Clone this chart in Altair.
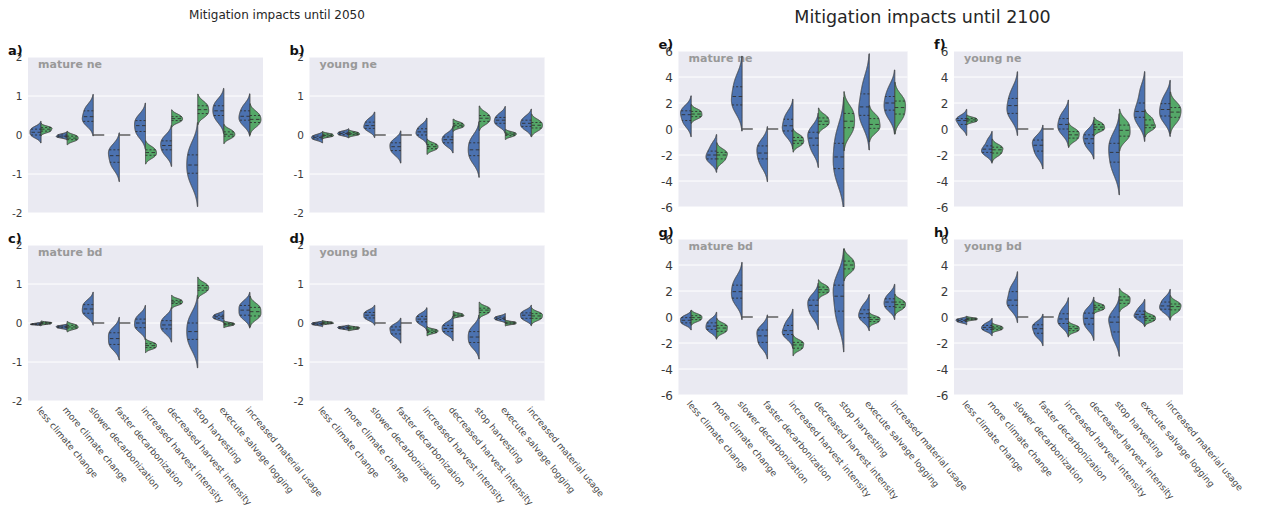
import json
import altair as alt
import pandas as pd

CATS = ["less climate change", "more climate change", "slower decarbonization",
        "faster decarbonization", "increased harvest intensity",
        "decreased harvest intensity", "stop harvesting",
        "execute salvage logging", "increased material usage"]
PANELS = ["a", "b", "c", "d", "e", "f", "g", "h"]
PANEL_NAMES = {"a": "mature ne", "b": "young ne", "c": "mature bd", "d": "young bd",
               "e": "mature ne", "f": "young ne", "g": "mature bd", "h": "young bd"}
TITLE_2050 = "Mitigation impacts until 2050"
TITLE_2100 = "Mitigation impacts until 2100"
Y_2050 = [-2, -1, 0, 1, 2]
Y_2100 = [-6, -4, -2, 0, 2, 4, 6]
F = [0, 0, 0, 0, 0]

# representative observations per half-violin (blue = left half, green = right half)
BLUE = {
    "a": [[-0.04, 0.0, 0.07, 0.15, 0.18], [-0.065, -0.05, -0.03, 0.0, 0.02], [0.3, 0.35, 0.47, 0.62, 0.73],
          [-0.83, -0.7, -0.53, -0.38, -0.33], [-0.02, 0.09, 0.24, 0.37, 0.47], [-0.51, -0.38, -0.27, -0.15, -0.05],
          [-1.23, -0.98, -0.77, -0.51, -0.29], [0.36, 0.5, 0.62, 0.75, 0.87], [0.28, 0.38, 0.48, 0.62, 0.75]],
    "b": [[-0.12, -0.1, -0.06, -0.03, 0.0], [-0.005, 0.01, 0.04, 0.07, 0.09], [0.13, 0.17, 0.24, 0.33, 0.4],
          [-0.48, -0.4, -0.3, -0.2, -0.14], [-0.04, 0.0, 0.08, 0.16, 0.24], [-0.27, -0.2, -0.12, -0.05, 0.02],
          [-0.67, -0.53, -0.38, -0.2, -0.08], [0.24, 0.3, 0.38, 0.45, 0.54], [0.16, 0.22, 0.3, 0.38, 0.46]],
    "c": [[-0.045, -0.04, -0.03, -0.02, -0.005], [-0.135, -0.12, -0.1, -0.08, -0.07], [0.2, 0.25, 0.36, 0.47, 0.54],
          [-0.62, -0.55, -0.4, -0.25, -0.19], [-0.17, -0.12, 0.0, 0.1, 0.19], [-0.23, -0.15, -0.05, 0.06, 0.14],
          [-0.61, -0.42, -0.22, 0.0, 0.17], [0.1, 0.12, 0.16, 0.2, 0.23], [0.15, 0.2, 0.33, 0.45, 0.51]],
    "d": [[-0.05, -0.04, -0.02, 0.0, 0.01], [-0.15, -0.14, -0.12, -0.1, -0.095], [0.1, 0.13, 0.2, 0.27, 0.3],
          [-0.32, -0.28, -0.18, -0.1, -0.07], [-0.02, 0.03, 0.1, 0.17, 0.22], [-0.27, -0.22, -0.14, -0.06, -0.015],
          [-0.59, -0.5, -0.36, -0.22, -0.13], [0.07, 0.09, 0.12, 0.15, 0.17], [0.09, 0.12, 0.2, 0.26, 0.3]],
    "e": [[0.32, 0.65, 1.1, 1.4, 1.61], [-2.55, -2.3, -2.0, -1.7, -1.19], [1.6, 1.85, 2.5, 3.25, 3.94],
          [-2.83, -2.3, -1.85, -1.3, -1.1], [-0.4, -0.15, 0.25, 0.75, 1.18], [-1.75, -1.25, -0.7, -0.25, -0.04],
          [-3.9, -3.05, -2.15, -1.1, -0.1], [0.56, 1.05, 1.7, 2.7, 3.69], [0.99, 1.45, 2.0, 2.5, 3.2]],
    "f": [[0.07, 0.35, 0.65, 0.8, 0.92], [-1.97, -1.8, -1.55, -1.3, -0.82], [1.0, 1.2, 1.8, 2.35, 3.0],
          [-2.09, -1.7, -1.25, -0.85, -0.75], [-0.29, 0.0, 0.35, 0.8, 1.21], [-1.48, -1.1, -0.75, -0.45, -0.15],
          [-3.26, -2.55, -1.8, -1.1, -0.68], [0.49, 0.9, 1.35, 2.0, 3.02], [0.68, 1.0, 1.5, 1.95, 2.53]],
    "g": [[-0.55, -0.45, -0.25, -0.05, 0.04], [-1.09, -0.95, -0.7, -0.45, -0.24], [1.1, 1.45, 1.95, 2.45, 2.93],
          [-2.21, -1.95, -1.45, -1.0, -0.9], [-1.49, -1.35, -1.05, -0.65, -0.26], [0.07, 0.45, 0.9, 1.3, 1.54],
          [-0.38, 0.45, 1.6, 2.45, 2.8], [-0.27, -0.05, 0.25, 0.55, 0.96], [0.6, 0.8, 1.15, 1.4, 1.75]],
    "h": [[-0.4, -0.35, -0.26, -0.18, -0.14], [-1.05, -0.95, -0.8, -0.65, -0.49], [0.8, 0.9, 1.3, 1.95, 2.33],
          [-1.5, -1.25, -0.9, -0.6, -0.55], [-0.62, -0.5, -0.15, 0.25, 0.6], [-0.81, -0.55, -0.1, 0.3, 0.53],
          [-1.69, -1.15, -0.4, 0.0, 0.15], [-0.15, 0.0, 0.2, 0.45, 0.78], [0.46, 0.6, 0.85, 1.15, 1.44]],
}
GREEN = {
    "a": [[0.08, 0.1, 0.15, 0.19, 0.2], [-0.15, -0.12, -0.08, -0.03, -0.01], F, F,
          [-0.57, -0.52, -0.45, -0.38, -0.32], [0.33, 0.37, 0.42, 0.47, 0.52], [0.5, 0.55, 0.65, 0.75, 0.82],
          [-0.08, -0.03, 0.02, 0.08, 0.13], [0.24, 0.32, 0.4, 0.5, 0.57]],
    "b": [[-0.045, -0.03, -0.01, 0.02, 0.03], [-0.005, 0.01, 0.03, 0.06, 0.075], F, F,
          [-0.38, -0.35, -0.3, -0.25, -0.22], [0.19, 0.21, 0.25, 0.29, 0.32], [0.3, 0.35, 0.43, 0.5, 0.56],
          [-0.04, -0.01, 0.02, 0.05, 0.07], [0.13, 0.18, 0.25, 0.32, 0.37]],
    "c": [[-0.025, -0.02, 0.0, 0.01, 0.02], [-0.15, -0.13, -0.1, -0.06, -0.04], F, F,
          [-0.65, -0.63, -0.58, -0.53, -0.51], [0.47, 0.5, 0.54, 0.58, 0.61], [0.78, 0.84, 0.9, 0.96, 1.02],
          [-0.07, -0.05, -0.03, -0.01, 0.005], [0.14, 0.18, 0.29, 0.4, 0.45]],
    "d": [[-0.02, -0.01, 0.0, 0.02, 0.025], [-0.16, -0.15, -0.13, -0.11, -0.105], F, F,
          [-0.26, -0.24, -0.21, -0.18, -0.165], [0.17, 0.18, 0.2, 0.23, 0.245], [0.24, 0.27, 0.33, 0.38, 0.41],
          [-0.03, -0.02, 0.0, 0.02, 0.03], [0.09, 0.12, 0.18, 0.24, 0.26]],
    "e": [[0.88, 0.95, 1.15, 1.35, 1.45], [-2.51, -2.3, -2.0, -1.8, -1.67], F, F,
          [-1.25, -1.1, -0.9, -0.65, -0.52], [0.22, 0.35, 0.6, 0.85, 1.03], [-0.34, 0.1, 0.6, 1.2, 1.52],
          [-0.15, 0.05, 0.35, 0.8, 0.96], [0.78, 1.15, 1.65, 2.15, 2.4]],
    "f": [[0.55, 0.6, 0.7, 0.8, 0.86], [-2.0, -1.85, -1.6, -1.4, -1.3], F, F,
          [-0.86, -0.7, -0.45, -0.2, -0.09], [-0.1, -0.05, 0.15, 0.35, 0.47], [-0.72, -0.55, -0.1, 0.3, 0.57],
          [0.05, 0.1, 0.3, 0.7, 0.85], [0.57, 0.9, 1.3, 1.65, 1.9]],
    "g": [[-0.29, -0.2, -0.05, 0.1, 0.18], [-1.15, -1.1, -0.85, -0.65, -0.57], F, F,
          [-2.49, -2.4, -2.15, -1.95, -1.87], [1.83, 1.9, 2.1, 2.3, 2.42], [3.52, 3.7, 4.0, 4.3, 4.54],
          [-0.44, -0.35, -0.2, -0.05, 0.0], [0.6, 0.75, 0.95, 1.15, 1.27]],
    "h": [[-0.23, -0.2, -0.15, -0.1, -0.07], [-1.01, -0.95, -0.85, -0.75, -0.69], F, F,
          [-1.12, -1.05, -0.9, -0.75, -0.68], [0.56, 0.6, 0.75, 0.9, 0.95], [0.93, 1.05, 1.3, 1.55, 1.64],
          [-0.33, -0.25, -0.1, 0.05, 0.13], [0.4, 0.55, 0.8, 1.0, 1.12]],
}

rows = []
for p in PANELS:
    for side, sgn, src in (("blue", -1, BLUE), ("green", 1, GREEN)):
        for ci, vals in enumerate(src[p]):
            for k, v in enumerate(vals):
                rows.append(dict(panel=p, ci=ci, side=side, sgn=sgn, obs=k, v=v))
df = pd.DataFrame(rows)

FONT = "DejaVu Sans"
EDGE = "#444444"
BG = "#EAEAF2"
HALF = 0.42
PLOT_H = 156
label_expr = json.dumps(CATS) + "[datum.value]"


def panel(p, yvals, width, bottom, yfs, pad_top=0, title=None):
    ymin, ymax = yvals[0], yvals[-1]
    top = ymax + (ymax - ymin) * pad_top / PLOT_H
    xs = alt.Scale(domain=[-0.5, 8.5], nice=False, zero=False)
    ys = alt.Scale(domain=[ymin, top], nice=False, zero=False)
    if bottom:
        xax = alt.Axis(values=list(range(9)), labelExpr=label_expr, labelAngle=50, labelAlign="left",
                       labelBaseline="top", labelFontSize=9, labelColor="#444444", labelPadding=4,
                       labelFlush=False, labelOverlap=False, labelBound=False, ticks=False, domain=False,
                       grid=False, title=None, labelFont=FONT)
    else:
        xax = alt.Axis(values=list(range(9)), labels=False, ticks=False, domain=False, grid=False, title=None)
    yax = alt.Axis(values=yvals, title=None, grid=False, domain=False, ticks=False, labelFontSize=yfs,
                   labelColor="#3a3a3a", labelPadding=6, labelFont=FONT, labelExpr="'' + datum.value")
    ext = [ymin * 1.25, ymax * 1.25]
    steps = 1000 if ymax < 3 else 1400

    bg = alt.Chart(pd.DataFrame({"k": [0]})).mark_rect(color=BG).encode(
        y=alt.Y(datum=ymax, scale=ys, axis=yax), y2=alt.datum(ymin), x=alt.value(0), x2=alt.value(width))
    grid = alt.Chart(pd.DataFrame({"gv": yvals})).mark_rule(color="white", strokeWidth=1).encode(
        y=alt.Y("gv:Q", scale=ys, axis=yax), x=alt.value(0), x2=alt.value(width))

    base = alt.Chart(df).transform_filter(alt.datum.panel == p).transform_joinaggregate(
        q1="q1(v)", med="median(v)", q3="q3(v)", vmin="min(v)", vmax="max(v)", groupby=["ci", "sgn"])

    viol = base.transform_filter("datum.vmax > datum.vmin").transform_density(
        "v", groupby=["ci", "sgn", "side", "q1", "med", "q3"], extent=ext, steps=steps,
        as_=["val", "dens"]).transform_joinaggregate(
        dmax="max(dens)", groupby=["ci", "sgn"]).transform_calculate(
        w="datum.dens / datum.dmax").transform_filter(
        f"datum.w > 0.03 && datum.val <= {ymax}").transform_calculate(
        xe=f"datum.ci + datum.sgn * {HALF} * datum.w")

    areas = viol.mark_area(orient="horizontal", interpolate="monotone", stroke=EDGE, strokeWidth=1,
                           clip=True).encode(
        y=alt.Y("val:Q", scale=ys, axis=yax),
        x=alt.X("xe:Q", scale=xs, axis=xax),
        x2="ci:Q",
        color=alt.Color("side:N", scale=alt.Scale(domain=["blue", "green"], range=["#4C72B0", "#55A868"]),
                        legend=None),
        detail="ci:N",
    )

    quart = viol.transform_fold(["q1", "med", "q3"], as_=["qk", "qv"]).transform_calculate(
        dist="abs(datum.val - datum.qv)").transform_window(
        rk="row_number()", groupby=["ci", "sgn", "qk"], sort=[alt.SortField("dist", order="ascending")]
    ).transform_filter("datum.rk == 1")
    rules = quart.mark_rule(strokeWidth=0.9, color="#303030", clip=True).encode(
        y=alt.Y("qv:Q", scale=ys, axis=yax),
        x=alt.X("ci:Q", scale=xs, axis=xax),
        x2="xe:Q",
        strokeDash=alt.StrokeDash("qk:N", scale=alt.Scale(domain=["q1", "med", "q3"],
                                                         range=[[2, 2], [3.5, 2.5], [2, 2]]), legend=None),
    )

    flat = base.transform_filter("datum.vmax == datum.vmin && datum.obs == 0").transform_calculate(
        xe=f"datum.ci + datum.sgn * {HALF}").mark_rule(color=EDGE, strokeWidth=1.3).encode(
        y=alt.Y("v:Q", scale=ys, axis=yax),
        x=alt.X("ci:Q", scale=xs, axis=xax),
        x2="xe:Q",
    )

    name = alt.Chart(pd.DataFrame({"t": [PANEL_NAMES[p]]})).mark_text(
        align="left", baseline="alphabetic", fontSize=11, fontWeight="bold", color="#999999", font=FONT
    ).encode(x=alt.value(10), y=alt.value(pad_top + 11), text="t:N")
    letter = alt.Chart(pd.DataFrame({"t": [p + ")"]})).mark_text(
        align="left", baseline="alphabetic", fontSize=13, fontWeight="bold", color="#111111", font=FONT
    ).encode(x=alt.value(-20), y=alt.value(pad_top - 2), text="t:N")

    layers = [bg, grid, name, areas, rules, flat, letter]
    if title is not None:
        txt, tx, ty, tfs = title
        layers.append(alt.Chart(pd.DataFrame({"t": [txt]})).mark_text(
            align="center", baseline="alphabetic", fontSize=tfs, color="#262626", font=FONT
        ).encode(x=alt.value(tx), y=alt.value(ty), text="t:N"))
    return alt.layer(*layers).properties(width=width, height=PLOT_H + pad_top)


def spacer():
    return alt.Chart(pd.DataFrame({"t": [""]})).mark_text().encode(
        text="t:N", x=alt.value(0), y=alt.value(0)).properties(width=41, height=PLOT_H)


chart = alt.concat(
    panel("a", Y_2050, 235, False, 10.5, pad_top=6, title=(TITLE_2050, 249, -32.5, 12)),
    panel("b", Y_2050, 235, False, 10.5, pad_top=6),
    spacer(),
    panel("e", Y_2100, 229, False, 12, title=(TITLE_2100, 244, -28.5, 17.5)),
    panel("f", Y_2100, 229, False, 12),
    panel("c", Y_2050, 235, True, 10.5, pad_top=6),
    panel("d", Y_2050, 235, True, 10.5, pad_top=6),
    spacer(),
    panel("g", Y_2100, 229, True, 12),
    panel("h", Y_2100, 229, True, 12),
    columns=5, spacing={"row": 26, "column": 46.5}, bounds="flush", align="each",
    padding={"left": 0, "top": 0, "right": 0, "bottom": 0},
).configure(background="white").configure_view(strokeWidth=0)

chart.save("out.html", embed_options={"renderer": "svg", "actions": False})
